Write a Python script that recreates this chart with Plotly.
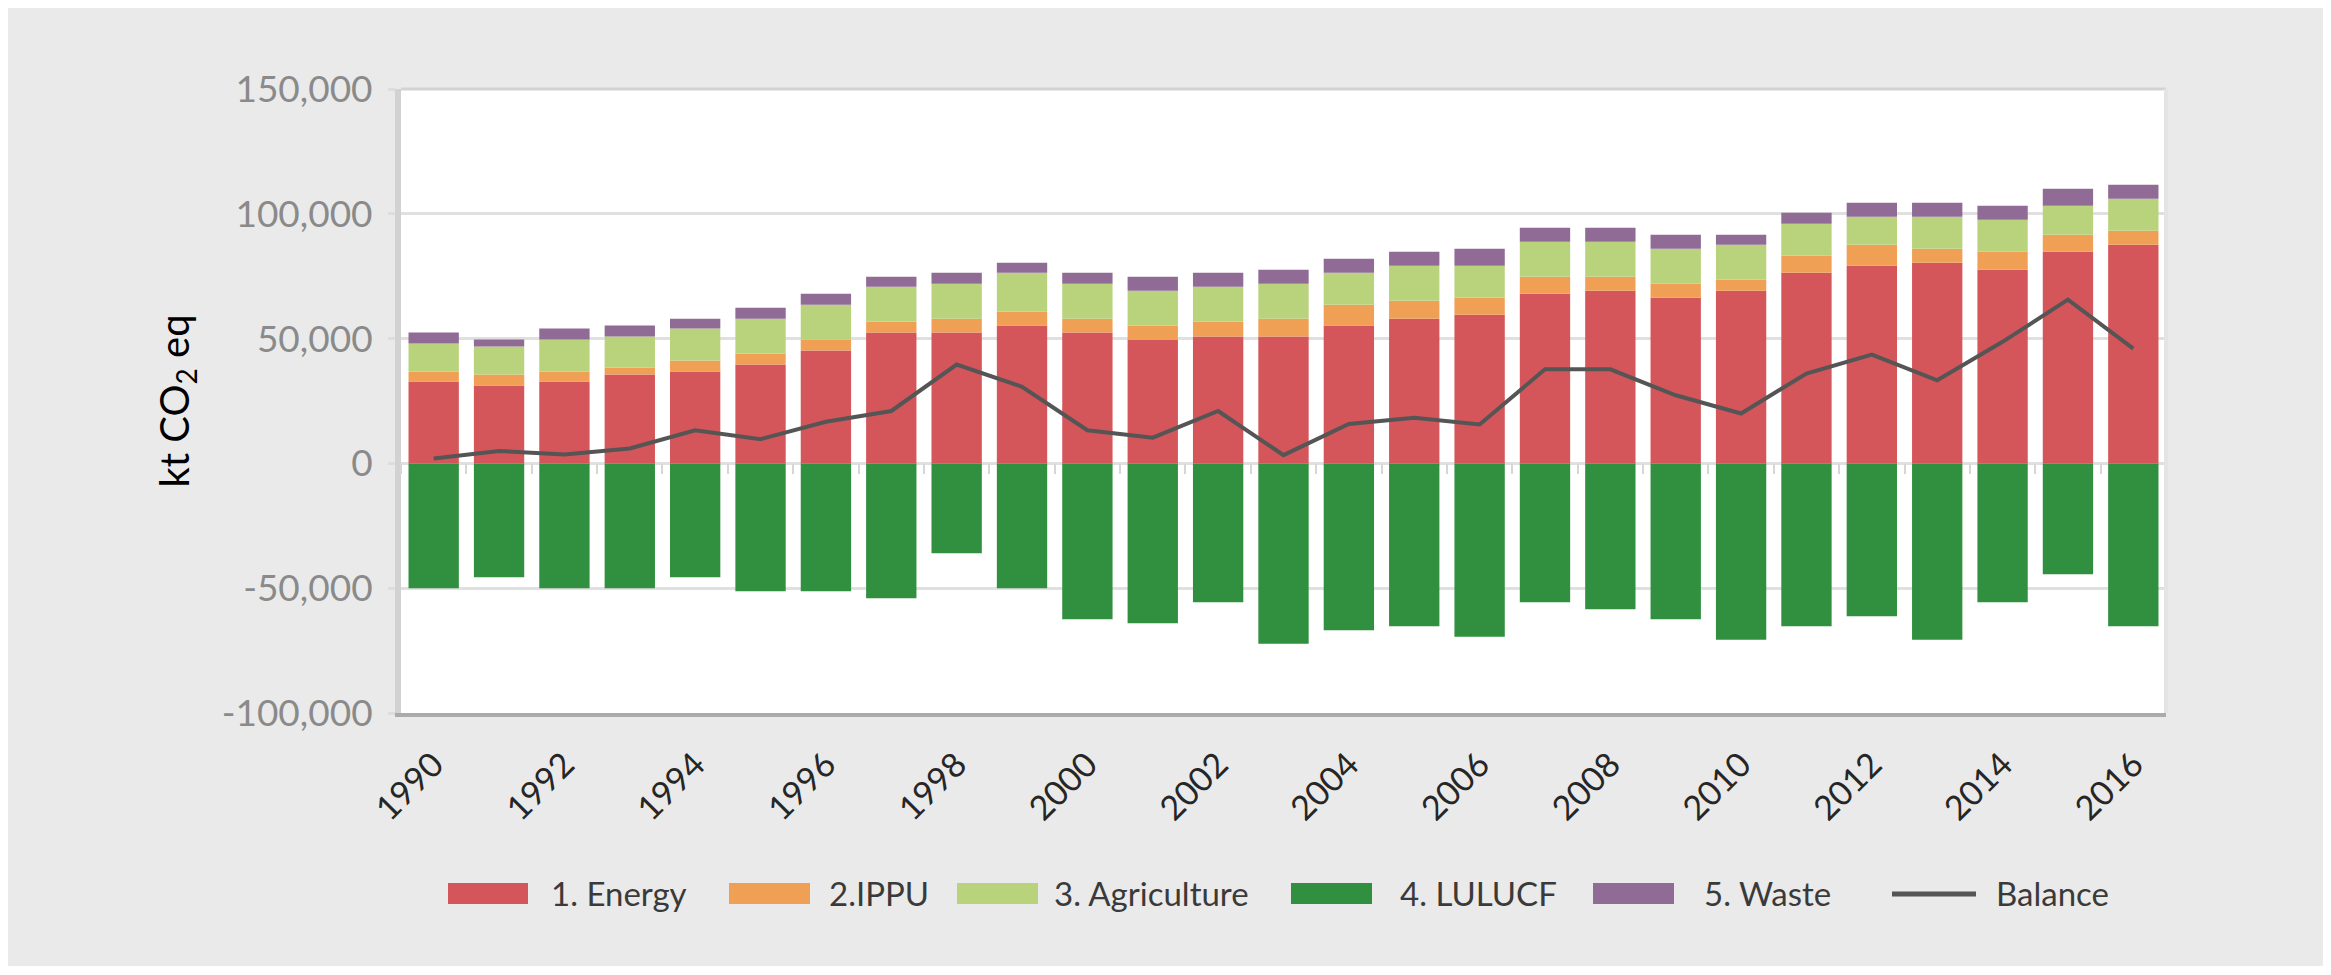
import plotly.graph_objects as go

# ---------------- data ----------------
years = list(range(1990, 2017))

energy = [32800, 31200, 32800, 35600, 36800, 39600, 45200, 52400, 52400, 55200,
          52400, 49600, 50800, 50800, 55200, 58000, 59600, 68000, 69200, 66400,
          69200, 76400, 79200, 80400, 77600, 84800, 87600]
ippu = [4000, 4400, 4000, 2800, 4400, 4400, 4400, 4400, 5600, 5600,
        5600, 5600, 6000, 7200, 8400, 7200, 6800, 6800, 5600, 5600,
        4400, 6800, 8400, 5600, 7200, 6800, 5600]
agriculture = [11200, 11200, 12800, 12400, 12800, 14000, 14000, 14000, 14000, 15600,
               14000, 14000, 14000, 14000, 12800, 14000, 12800, 14000, 14000, 14000,
               14000, 12800, 11200, 12800, 12800, 11600, 12800]
lulucf = [-50000, -45600, -50000, -50000, -45600, -51200, -51200, -54000, -36000, -50000,
          -62400, -64000, -55600, -72300, -66800, -65200, -69500, -55600, -58400, -62400,
          -70700, -65200, -61200, -70700, -55600, -44400, -65200]
waste = [4400, 2800, 4400, 4400, 4000, 4400, 4400, 4000, 4400, 4000,
         4400, 5600, 5600, 5600, 5600, 5600, 6800, 5600, 5600, 5600,
         4000, 4400, 5600, 5600, 5600, 6800, 5600]
balance = [2000, 5000, 3600, 6000, 13300, 9700, 16700, 21000, 39600, 30700,
           13300, 10300, 21000, 3300, 15800, 18300, 15600, 37700, 37700, 27300,
           20000, 36000, 43600, 33300, 48700, 65600, 46000]

series_names = ["1. Energy", "2.IPPU", "3. Agriculture", "4. LULUCF", "5. Waste"]
balance_name = "Balance"

x_tick_vals = list(range(1990, 2017, 2))
x_tick_text = [str(v) for v in x_tick_vals]
y_tick_vals = [-100000, -50000, 0, 50000, 100000, 150000]
y_tick_text = ["-100,000", "-50,000", "0", "50,000", "100,000", "150,000"]
boundaries = [y - 0.5 for y in years] + [years[-1] + 0.5]

# ---------------- styles ----------------
colors = ["#D4565A", "#F0A055", "#B8D37C", "#318F40", "#8F6B95"]
line_color = "#555555"
FONT = "Lato"

PAGE_OFF = 8  # page body margin
W_FIG, H_FIG = 2323, 958
ML, MR, MT, MB = 393, 165, 81, 253
PW = W_FIG - ML - MR
PH = H_FIG - MT - MB


def px2x(page_px):
    return (page_px - PAGE_OFF - ML) / PW


def px2y(page_py):
    return (H_FIG - MB - (page_py - PAGE_OFF)) / PH


fig = go.Figure()

values = [energy, ippu, agriculture, lulucf, waste]
for name, vals, col in zip(series_names, values, colors):
    fig.add_trace(go.Bar(x=years, y=vals, name=name, marker=dict(color=col, line=dict(width=0)),
                         showlegend=False))

fig.add_trace(go.Scatter(x=years, y=balance, name=balance_name, mode="lines",
                         line=dict(color=line_color, width=4), showlegend=False))

# helper trace to activate the tick axis drawn along the zero line
fig.add_trace(go.Scatter(x=[years[0]], y=[None], xaxis="x2", showlegend=False,
                         hoverinfo="skip", mode="lines"))

fig.update_layout(
    width=W_FIG, height=H_FIG,
    margin=dict(l=ML, r=MR, t=MT, b=MB, pad=0),
    paper_bgcolor="#EAEAEA",
    plot_bgcolor="#FFFFFF",
    barmode="relative",
    bargap=0.23,
    font=dict(family=FONT),
    xaxis=dict(
        range=[1989.5, 2016.5],
        tickvals=x_tick_vals, ticktext=x_tick_text,
        tickangle=-45,
        tickfont=dict(size=34, color="#262626", family=FONT),
        ticks="", showgrid=False, zeroline=False,
        showline=True, linecolor="#ABABAB", linewidth=4,
        ticklabelstandoff=14,
    ),
    xaxis2=dict(
        overlaying="x", anchor="free", position=0.4, side="bottom",
        range=[1989.5, 2016.5],
        tickvals=boundaries, ticks="outside", ticklen=10, tickwidth=2,
        tickcolor="#D6D6D6", showticklabels=False,
        showgrid=False, zeroline=False, showline=False,
    ),
    yaxis=dict(
        range=[-100000, 150000],
        tickvals=y_tick_vals, ticktext=y_tick_text,
        tickfont=dict(size=37, color="#8A8A8A", family=FONT),
        showgrid=True, gridcolor="#E0E0E0", gridwidth=3,
        zeroline=False,
        showline=True, linecolor="#D2D2D2", linewidth=6,
        ticks="outside", ticklen=7, tickwidth=3, tickcolor="#DDDDDD",
        ticklabelstandoff=8,
        title=dict(text="kt CO<sub>2</sub> eq", font=dict(size=40, color="#000000", family=FONT),
                   standoff=22),
    ),
)

shapes = []
# top and right plot borders
shapes.append(dict(type="line", xref="paper", yref="paper", x0=0, x1=1, y0=1, y1=1,
                   line=dict(color="#D3D3D3", width=3)))
shapes.append(dict(type="line", xref="paper", yref="paper", x0=1, x1=1, y0=0, y1=1,
                   line=dict(color="#E4E4E4", width=4)))

# custom legend (page pixel positions)
swatch_x = [(448, 528), (729, 810), (957, 1038), (1291, 1372), (1593, 1674)]
text_x = [549, 827, 1052, 1398, 1702]
leg_top, leg_bot, leg_mid = 883, 904, 893
annotations = []
for (x0, x1), tx, name, col in zip(swatch_x, text_x, series_names, colors):
    shapes.append(dict(type="rect", xref="paper", yref="paper", x0=px2x(x0), x1=px2x(x1),
                       y0=px2y(leg_bot), y1=px2y(leg_top), fillcolor=col, line=dict(width=0)))
    annotations.append(dict(xref="paper", yref="paper", x=px2x(tx), y=px2y(leg_mid),
                            text=name, showarrow=False, xanchor="left", yanchor="middle",
                            font=dict(size=33, color="#3A3A3A", family=FONT)))
shapes.append(dict(type="line", xref="paper", yref="paper", x0=px2x(1892), x1=px2x(1976),
                   y0=px2y(leg_mid + 1), y1=px2y(leg_mid + 1),
                   line=dict(color=line_color, width=5)))
annotations.append(dict(xref="paper", yref="paper", x=px2x(1994), y=px2y(leg_mid),
                        text=balance_name, showarrow=False, xanchor="left", yanchor="middle",
                        font=dict(size=33, color="#3A3A3A", family=FONT)))

fig.update_layout(shapes=shapes, annotations=annotations)

fig.write_html("out.html")
